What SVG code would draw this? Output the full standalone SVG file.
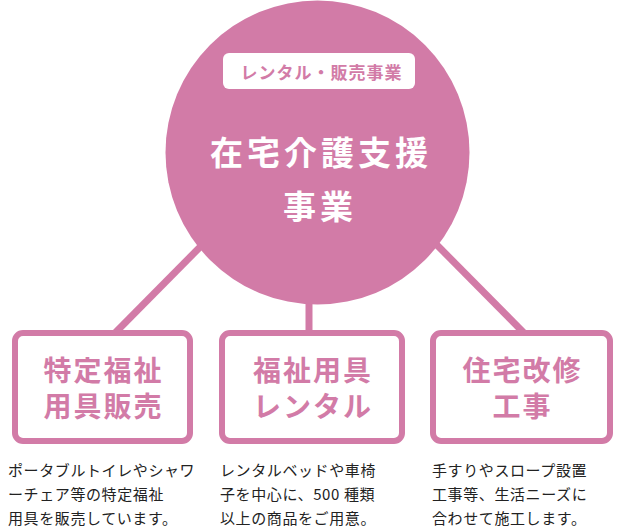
<svg xmlns="http://www.w3.org/2000/svg" width="617" height="530" viewBox="0 0 617 530">
<style>
.ln{stroke:#d27ba7;stroke-width:7;fill:none}
.box{fill:#fff;stroke:#d27ba7;stroke-width:6}
.bt{font-family:"Noto Sans CJK JP","Noto Sans",sans-serif;font-weight:bold;font-size:28px;fill:#d27ba7;letter-spacing:2px;text-anchor:middle}
.ds{font-family:"Noto Sans CJK JP","Noto Sans",sans-serif;font-size:15px;fill:#222;letter-spacing:0.6px}
.ct{font-family:"Noto Sans CJK JP","Noto Sans",sans-serif;font-weight:bold;font-size:33px;fill:#fff;letter-spacing:4px;text-anchor:middle}
.pl{font-family:"Noto Sans CJK JP","Noto Sans",sans-serif;font-weight:bold;font-size:17px;fill:#d27ba7;letter-spacing:1px;text-anchor:middle}
</style>
<rect width="617" height="530" fill="#fff"/>
<g id="connectors">
<line class="ln" x1="114" y1="334" x2="205" y2="242"/>
<line class="ln" x1="309" y1="290" x2="309" y2="334"/>
<line class="ln" x1="432" y1="240" x2="525" y2="334"/>
</g>
<g id="center">
<circle cx="317.5" cy="152.5" r="152" fill="#d27ba7"/>
<rect x="223" y="53" width="192" height="36" rx="6" fill="#fff"/>
<text class="pl" x="321.5" y="79">レンタル・販売事業</text>
<text class="ct" x="321" y="165">在宅介護支援</text>
<text class="ct" x="320" y="219">事業</text>
</g>
<g id="box1">
<rect class="box" x="15" y="333" width="175" height="108" rx="8"/>
<text class="bt" x="103.5" y="381">特定福祉</text>
<text class="bt" x="103.5" y="417">用具販売</text>
<text class="ds" x="8" y="476">ポータブルトイレやシャワ</text>
<text class="ds" x="8" y="500">ーチェア等の特定福祉</text>
<text class="ds" x="8" y="524">用具を販売しています。</text>
</g>
<g id="box2">
<rect class="box" x="222" y="333" width="180" height="108" rx="8"/>
<text class="bt" x="313" y="381">福祉用具</text>
<text class="bt" x="313" y="417">レンタル</text>
<text class="ds" x="220" y="476">レンタルベッドや車椅</text>
<text class="ds" x="220" y="500">子を中心に、500 種類</text>
<text class="ds" x="220" y="524">以上の商品をご用意。</text>
</g>
<g id="box3">
<rect class="box" x="433" y="333" width="177" height="108" rx="8"/>
<text class="bt" x="522.5" y="381">住宅改修</text>
<text class="bt" x="522.5" y="417">工事</text>
<text class="ds" x="432" y="476">手すりやスロープ設置</text>
<text class="ds" x="432" y="500">工事等、生活ニーズに</text>
<text class="ds" x="432" y="524">合わせて施工します。</text>
</g>
</svg>
